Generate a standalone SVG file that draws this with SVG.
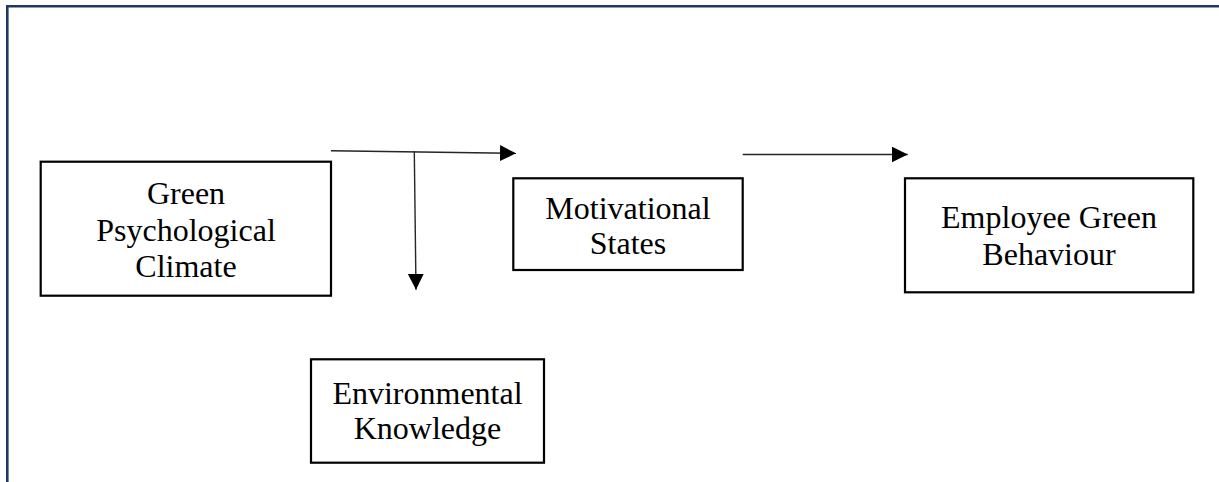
<svg xmlns="http://www.w3.org/2000/svg" width="1219" height="482" viewBox="0 0 1219 482">
<style>
  .box { fill: #ffffff; stroke: #000000; stroke-width: 2.2; }
  .lbl { font-family: "Liberation Serif", "Times New Roman", serif; font-size: 32px; fill: #000000; text-anchor: middle; }
  .conn { stroke: #262626; stroke-width: 1.4; fill: none; }
  .frame { stroke: #1f3864; stroke-width: 2.6; fill: none; }
</style>
<defs>
  <marker id="arr" markerUnits="userSpaceOnUse" markerWidth="17" markerHeight="17" refX="16" refY="8" orient="auto">
    <path d="M0,0 L16,8 L0,16 z" fill="#000000"/>
  </marker>
</defs>
<rect x="0" y="0" width="1219" height="482" fill="#ffffff"/>
<path class="frame" d="M7.3,482 L7.3,6.3 L1219,6.3"/>

<g id="connectors">
  <line class="conn" x1="331" y1="150.7" x2="516" y2="153.3" marker-end="url(#arr)"/>
  <line class="conn" x1="414.3" y1="151.2" x2="416" y2="289.8" marker-end="url(#arr)"/>
  <line class="conn" x1="742.7" y1="154.5" x2="907.7" y2="154.5" marker-end="url(#arr)"/>
</g>

<g id="node-green-psychological-climate">
  <rect class="box" x="40.7" y="161.7" width="290.3" height="134"/>
  <text class="lbl" x="186" y="204">Green</text>
  <text class="lbl" x="186" y="240.7">Psychological</text>
  <text class="lbl" x="186" y="276.7">Climate</text>
</g>

<g id="node-motivational-states">
  <rect class="box" x="513.3" y="178.3" width="229.4" height="91.7"/>
  <text class="lbl" x="628" y="219">Motivational</text>
  <text class="lbl" x="628" y="254.3">States</text>
</g>

<g id="node-employee-green-behaviour">
  <rect class="box" x="905" y="178.3" width="288.3" height="114"/>
  <text class="lbl" x="1049" y="227.7">Employee Green</text>
  <text class="lbl" x="1049" y="265">Behaviour</text>
</g>

<g id="node-environmental-knowledge">
  <rect class="box" x="311" y="359.3" width="233" height="103.4"/>
  <text class="lbl" x="427.5" y="404">Environmental</text>
  <text class="lbl" x="427.5" y="439.3">Knowledge</text>
</g>
</svg>
